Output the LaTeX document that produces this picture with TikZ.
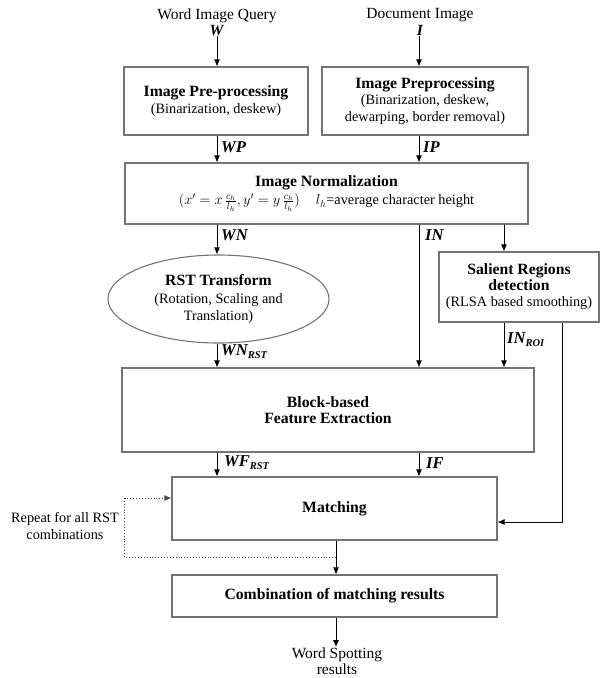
\documentclass[tikz,border=0pt]{standalone}
\usepackage{fontspec}
\setmainfont{Liberation Serif}
\usetikzlibrary{arrows.meta,shapes.geometric,calc}
\definecolor{boxgray}{RGB}{115,115,115}
\newcommand{\subtxt}[1]{{\fontsize{10.5}{12}\selectfont\raisebox{-3pt}{#1}}}
\newcommand{\ttlfont}{\fontsize{15.7}{18}\selectfont\bfseries}
\begin{document}
\begin{tikzpicture}[x=1pt,y=-1pt,
  box/.style={draw=boxgray, line width=1.1pt, rectangle, align=center, inner sep=0pt,
    font=\fontsize{14.3}{16.5}\selectfont},
  ell/.style={draw=boxgray, line width=1.1pt, ellipse, align=center, inner sep=0pt,
    font=\fontsize{14.3}{17}\selectfont},
  arr/.style={-{Latex[length=7pt,width=6pt]}, line width=0.9pt},
  loopline/.style={dotted, line width=0.9pt, draw=black!70},
  lab/.style={font=\fontsize{16.5}{18}\selectfont\bfseries\itshape, anchor=west, inner sep=0pt},
  txt/.style={align=center, inner sep=0pt, font=\fontsize{15.5}{17.5}\selectfont}
]
\useasboundingbox (0,0) rectangle (606,678);

% column coordinates
\coordinate (colW) at (217,0);
\coordinate (colI) at (419,0);
\coordinate (colS) at (504,0);
\coordinate (rr) at (562,522);
\coordinate (lp1) at (124.5,498);
\coordinate (lp2) at (124.5,557);
\coordinate (mb) at (336,557);

% inputs
\node[txt] (wq) at (217,22) {Word Image Query\\[-1pt]\textbf{\textit{W}}};
\node[txt] (di) at (420,22) {Document Image\\[-1pt]\textbf{\textit{I}}};

% boxes
\node[box, minimum width=184pt, minimum height=68pt] (pre1) at (216,101)
  {{\ttlfont Image Pre-processing}\\(Binarization, deskew)};
\node[box, minimum width=206pt, minimum height=68pt] (pre2) at (425,101)
  {{\ttlfont Image Preprocessing}\\(Binarization, deskew,\\dewarping, border removal)};
\node[box, minimum width=403pt, minimum height=61pt] (norm) at (326.5,193.5)
  {{\ttlfont Image Normalization}\\[2pt]
   $(x' = x\,\frac{c_h}{l_h}, y' = y\,\frac{c_h}{l_h})$\hspace{16pt}$l_h$=average character height};
\node[ell, minimum width=221pt, minimum height=88pt] (rst) at (218.5,299)
  {{\ttlfont RST Transform}\\[1pt](Rotation, Scaling and\\Translation)};
\node[box, minimum width=160pt, minimum height=70pt] (sal) at (519,287)
  {{\ttlfont Salient Regions}\\[-1pt]{\ttlfont detection}\\(RLSA based smoothing)};
\node[box, minimum width=412pt, minimum height=84pt] (block) at (328,410)
  {{\ttlfont Block-based}\\{\ttlfont Feature Extraction}};
\node[box, minimum width=325pt, minimum height=63pt] (match) at (334.5,508.5)
  {{\ttlfont Matching}};
\node[box, minimum width=325pt, minimum height=42pt] (comb) at (334.5,596)
  {{\ttlfont Combination of matching results}};

\node[txt] (ws) at (337,661) {Word Spotting\\[-1pt]results};
\node[txt, font=\fontsize{14.3}{16.5}\selectfont] (rep) at (65,526) {Repeat for all RST\\combinations};

% connectors
\draw[arr] (wq.south -| colW) -- (pre1.north -| colW);
\draw[arr] (di.south -| colI) -- (pre2.north -| colI);
\draw[arr] (pre1.south -| colW) -- (norm.north -| colW);
\draw[arr] (pre2.south -| colI) -- (norm.north -| colI);
\draw[arr] (norm.south -| colW) -- (rst.north -| colW);
\draw[arr] (norm.south -| colI) -- (block.north -| colI);
\draw[arr] (norm.south -| colS) -- (sal.north -| colS);
\draw[arr] (rst.south -| colW) -- (block.north -| colW);
\draw[arr] (sal.south -| colS) -- (block.north -| colS);
\draw[arr] (sal.south -| rr) -- (rr) -- (match.east |- rr);
\draw[arr] (block.south -| colW) -- (match.north -| colW);
\draw[arr] (block.south -| colI) -- (match.north -| colI);
\draw[arr] (match.south -| mb) -- (comb.north -| mb);
\draw[loopline] (mb) -- (lp2) -- (lp1);
\draw[arr, dotted, draw=black!70] (lp1) -- (match.west |- lp1);
\draw[arr] (comb.south -| mb) -- (ws.north -| mb);

% labels
\node[lab] (lWP) at (221,147) {WP};
\node[lab] (lIP) at (423,147) {IP};
\node[lab] (lWN) at (221,235) {WN};
\node[lab] (lIN) at (425,235) {IN};
\node[lab] (lWNR) at (221,352) {WN\subtxt{RST}};
\node[lab] (lINR) at (507,340) {IN\subtxt{ROI}};
\node[lab] (lWF) at (224,463) {WF\subtxt{RST}};
\node[lab] (lIF) at (426,463) {IF};
\end{tikzpicture}
\end{document}
